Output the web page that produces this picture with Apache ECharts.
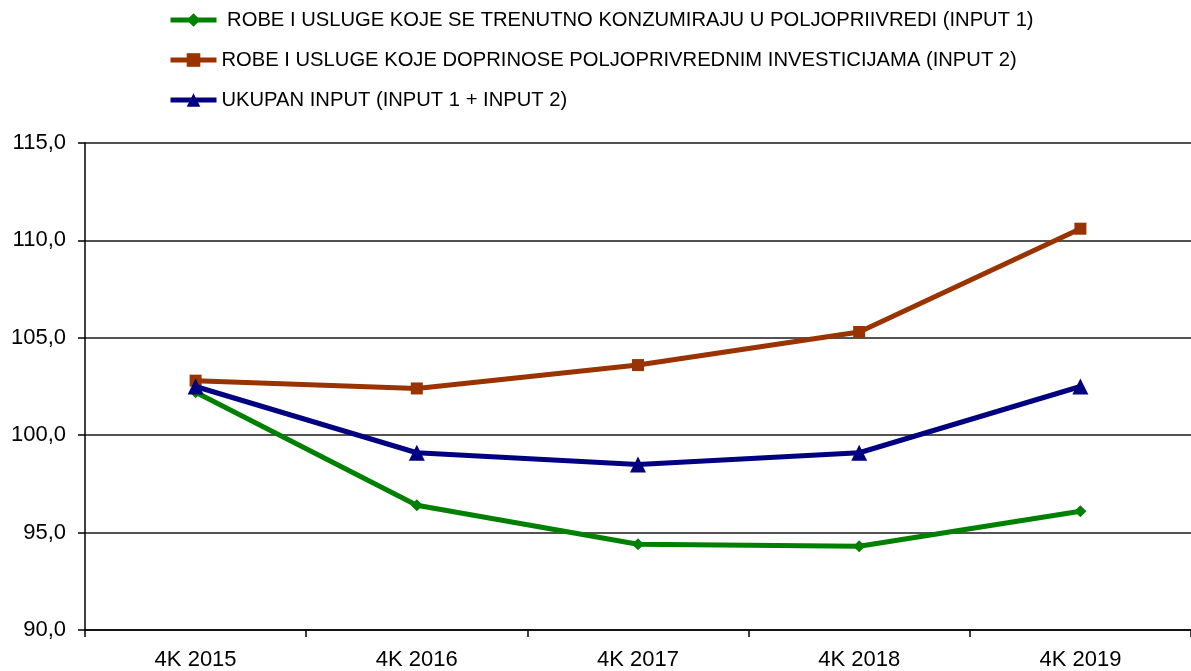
<!DOCTYPE html>
<html>
<head>
<meta charset="utf-8">
<script src="https://cdn.jsdelivr.net/npm/echarts@6/dist/echarts.min.js"></script>
<style>
html,body{margin:0;padding:0;background:#fff;}
#chart{width:1191px;height:671px;}
</style>
</head>
<body>
<div id="chart"></div>
<script>
const categories = ['4K 2015', '4K 2016', '4K 2017', '4K 2018', '4K 2019'];
const seriesNames = [
  ' ROBE I USLUGE KOJE SE TRENUTNO KONZUMIRAJU U POLJOPRIIVREDI (INPUT 1)',
  'ROBE I USLUGE KOJE DOPRINOSE POLJOPRIVREDNIM INVESTICIJAMA (INPUT 2)',
  'UKUPAN INPUT (INPUT 1 + INPUT 2)'
];
const input1 = [102.2, 96.4, 94.4, 94.3, 96.1];
const input2 = [102.8, 102.4, 103.6, 105.3, 110.6];
const ukupan = [102.5, 99.1, 98.5, 99.1, 102.5];
const yMin = 90, yMax = 115, yStep = 5;

const font = 'Liberation Sans, Arial, sans-serif';
const chart = echarts.init(document.getElementById('chart'));
chart.setOption({
  animation: false,
  backgroundColor: '#fff',
  legend: {
    orient: 'vertical',
    left: 163,
    top: 5,
    itemWidth: 46,
    itemHeight: 17,
    itemGap: 20,
    lineStyle: {width: 5},
    textStyle: {fontFamily: font, fontSize: 20.2, lineHeight: 20, color: '#000'},
    data: seriesNames
  },
  grid: {left: 85, top: 143, width: 1111, height: 487, containLabel: false},
  xAxis: {
    type: 'category',
    data: categories,
    boundaryGap: true,
    axisLine: {lineStyle: {color: '#000', width: 1.5}},
    axisTick: {show: true, length: 7, alignWithLabel: false, lineStyle: {color: '#000', width: 1.5}},
    axisLabel: {fontFamily: font, fontSize: 22, color: '#000', margin: 19}
  },
  yAxis: {
    type: 'value',
    min: yMin, max: yMax, interval: yStep,
    axisLine: {show: true, lineStyle: {color: '#000', width: 1.5}},
    axisTick: {show: true, length: 7, lineStyle: {color: '#000', width: 1.5}},
    splitLine: {show: true, lineStyle: {color: '#1a1a1a', width: 1.5}},
    axisLabel: {fontFamily: font, fontSize: 22, color: '#000', margin: 19,
      formatter: v => v.toFixed(1).replace('.', ',')}
  },
  series: [
    {name: seriesNames[0], type: 'line', data: input1, symbol: 'diamond', symbolSize: 12,
     color: '#008000', lineStyle: {width: 5, color: '#008000'}, itemStyle: {color: '#008000'}, z: 2},
    {name: seriesNames[1], type: 'line', data: input2, symbol: 'rect', symbolSize: 12,
     color: '#993300', lineStyle: {width: 5, color: '#993300'}, itemStyle: {color: '#993300'}, z: 3},
    {name: seriesNames[2], type: 'line', data: ukupan, symbol: 'triangle', symbolSize: 16,
     color: '#000080', lineStyle: {width: 5, color: '#000080'}, itemStyle: {color: '#000080'}, z: 4}
  ]
});
</script>
</body>
</html>
